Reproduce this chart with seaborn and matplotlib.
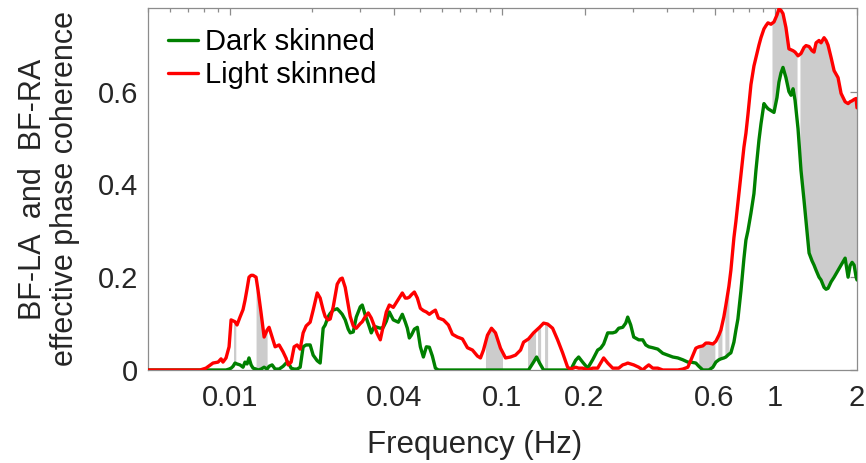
import numpy as np
import pandas as pd
import matplotlib
matplotlib.use("Agg")
import matplotlib.pyplot as plt
import matplotlib.ticker as mticker
import seaborn as sns

# Frequency grid (Hz) shared by both groups
freq = [
    0.005, 0.00628, 0.00776, 0.00816, 0.00866, 0.00904, 0.00927, 0.00942, 0.00967, 0.00992,
    0.01009, 0.01026, 0.01043, 0.01061, 0.01088, 0.01116, 0.01135, 0.01155, 0.01174, 0.01195,
    0.01215, 0.01246, 0.01267, 0.01300, 0.01334, 0.01368, 0.01391, 0.01427, 0.01464, 0.01514,
    0.01566, 0.01607, 0.01634, 0.01676, 0.01719, 0.01763, 0.01809, 0.01855, 0.01903, 0.01968,
    0.02019, 0.02089, 0.02142, 0.02197, 0.02235, 0.02292, 0.02332, 0.02392, 0.02474, 0.02538,
    0.02581, 0.02647, 0.02715, 0.02762, 0.02833, 0.02906, 0.03006, 0.03057, 0.03136, 0.03216,
    0.03299, 0.03384, 0.03471, 0.03560, 0.03652, 0.03746, 0.03842, 0.03974, 0.04146, 0.04289,
    0.04399, 0.04475, 0.04551, 0.04629, 0.04748, 0.04870, 0.04995, 0.05124, 0.05255, 0.05390,
    0.05529, 0.05672, 0.05817, 0.06069, 0.06331, 0.06549, 0.06832, 0.07128, 0.07436, 0.07757,
    0.08093, 0.08301, 0.08514, 0.08807, 0.09111, 0.09425, 0.09832, 0.1026, 0.1070, 0.1116,
    0.1165, 0.1195, 0.1246, 0.1300, 0.1334, 0.1368, 0.1415, 0.1464, 0.1527, 0.1593,
    0.1662, 0.1734, 0.1778, 0.1855, 0.1903, 0.1968, 0.2054, 0.2142, 0.2235, 0.2292,
    0.2351, 0.2433, 0.2538, 0.2603, 0.2670, 0.2762, 0.2833, 0.2881, 0.2955, 0.3031,
    0.3162, 0.3271, 0.3355, 0.3442, 0.3560, 0.3714, 0.3875, 0.4042, 0.4217, 0.4399,
    0.4590, 0.4788, 0.4911, 0.5124, 0.5255, 0.5436, 0.5576, 0.5720, 0.5917, 0.6069,
    0.6225, 0.6331, 0.6494, 0.6605, 0.6774, 0.6890, 0.7068, 0.7188, 0.7311, 0.7499,
    0.7692, 0.7823, 0.7957, 0.8162, 0.8371, 0.8514, 0.8733, 0.8883, 0.9111, 0.9266,
    0.9425, 0.9667, 0.9916, 1.017, 1.034, 1.052, 1.070, 1.097, 1.125, 1.145,
    1.165, 1.185, 1.215, 1.246, 1.278, 1.300, 1.334, 1.368, 1.391, 1.415,
    1.451, 1.476, 1.514, 1.540, 1.566, 1.607, 1.648, 1.704, 1.748, 1.809,
    1.855, 1.887, 1.919, 1.952, 1.985, 2.0,
]

# Effective phase coherence, dark-skinned group
dark = [
    0, 0, 0, 0, 0, 0, 0, 0, 0, 0.002,
    0.004, 0.008, 0.015, 0.013, 0.011, 0.006, 0.017, 0.013, 0.026, 0.011,
    0.004, 0.002, 0, 0.002, 0.006, 0.002, 0.008, 0.011, 0.002, 0.002,
    0.008, 0.015, 0.017, 0.004, 0.002, 0.002, 0.006, 0.050, 0.054, 0.054,
    0.032, 0.020, 0.015, 0.090, 0.097, 0.115, 0.122, 0.129, 0.132, 0.125,
    0.120, 0.108, 0.088, 0.080, 0.082, 0.114, 0.136, 0.140, 0.118, 0.100,
    0.080, 0.094, 0.092, 0.090, 0.092, 0.105, 0.125, 0.108, 0.103, 0.120,
    0.103, 0.090, 0.069, 0.075, 0.088, 0.092, 0.050, 0.028, 0.050, 0.049,
    0.030, 0.004, 0, 0, 0, 0, 0, 0, 0, 0,
    0, 0, 0, 0, 0, 0, 0, 0, 0, 0,
    0, 0, 0, 0.017, 0.028, 0.015, 0, 0, 0, 0,
    0, 0, 0, 0.021, 0.028, 0.017, 0.004, 0.022, 0.043, 0.047,
    0.056, 0.080, 0.080, 0.082, 0.090, 0.092, 0.101, 0.114, 0.097, 0.071,
    0.065, 0.065, 0.054, 0.050, 0.048, 0.045, 0.036, 0.032, 0.028, 0.026,
    0.022, 0.017, 0.017, 0.015, 0.008, 0, 0, 0, 0.006, 0.017,
    0.022, 0.024, 0.026, 0.028, 0.034, 0.037, 0.060, 0.086, 0.110, 0.170,
    0.240, 0.280, 0.300, 0.338, 0.380, 0.430, 0.495, 0.530, 0.574, 0.568,
    0.563, 0.559, 0.555, 0.587, 0.620, 0.640, 0.652, 0.630, 0.600, 0.592,
    0.606, 0.581, 0.520, 0.430, 0.366, 0.320, 0.252, 0.235, 0.226, 0.215,
    0.200, 0.194, 0.178, 0.174, 0.176, 0.190, 0.200, 0.215, 0.226, 0.241,
    0.200, 0.225, 0.232, 0.226, 0.200, 0.194,
]

# Effective phase coherence, light-skinned group
light = [
    0, 0, 0, 0.004, 0.015, 0.017, 0.024, 0.017, 0.026, 0.050,
    0.108, 0.106, 0.104, 0.097, 0.114, 0.130, 0.150, 0.175, 0.200, 0.204,
    0.204, 0.200, 0.172, 0.123, 0.071, 0.086, 0.092, 0.071, 0.050, 0.054,
    0.039, 0.025, 0.011, 0.017, 0.050, 0.054, 0.045, 0.080, 0.095, 0.103,
    0.129, 0.166, 0.155, 0.129, 0.115, 0.108, 0.110, 0.136, 0.185, 0.196,
    0.198, 0.178, 0.140, 0.115, 0.095, 0.090, 0.100, 0.104, 0.115, 0.123,
    0.112, 0.095, 0.078, 0.065, 0.095, 0.125, 0.140, 0.135, 0.152, 0.166,
    0.155, 0.155, 0.157, 0.162, 0.168, 0.155, 0.133, 0.128, 0.125, 0.120,
    0.125, 0.129, 0.112, 0.108, 0.097, 0.077, 0.071, 0.067, 0.048, 0.043,
    0.030, 0.026, 0.043, 0.075, 0.090, 0.080, 0.047, 0.026, 0.028, 0.032,
    0.043, 0.060, 0.067, 0.080, 0.086, 0.092, 0.101, 0.099, 0.090, 0.065,
    0.037, 0.006, 0.002, 0.006, 0.004, 0.004, 0, 0.004, 0.004, 0.015,
    0.026, 0.015, 0.004, 0.004, 0.004, 0.011, 0.013, 0.015, 0.013, 0.011,
    0.006, 0, 0.006, 0.011, 0.004, 0.004, 0, 0, 0, 0,
    0.002, 0.006, 0.021, 0.047, 0.050, 0.052, 0.058, 0.058, 0.056, 0.062,
    0.075, 0.086, 0.115, 0.140, 0.180, 0.215, 0.285, 0.320, 0.360, 0.420,
    0.480, 0.510, 0.550, 0.615, 0.655, 0.673, 0.700, 0.716, 0.735, 0.742,
    0.748, 0.745, 0.750, 0.765, 0.778, 0.775, 0.768, 0.738, 0.692, 0.690,
    0.688, 0.685, 0.677, 0.682, 0.695, 0.699, 0.697, 0.688, 0.685, 0.705,
    0.710, 0.705, 0.716, 0.710, 0.700, 0.673, 0.645, 0.630, 0.596, 0.578,
    0.574, 0.578, 0.580, 0.583, 0.585, 0.565,
]

# Frequency bands (Hz) where the two groups differ significantly
sig_lo = [0.0103, 0.01246, 0.0866, 0.1236, 0.1345, 0.1427, 0.5255, 0.617, 0.655, 0.975, 1.235]
sig_hi = [0.0105, 0.01368, 0.100, 0.1322, 0.1380, 0.1464, 0.6018, 0.6387, 0.6774, 1.205, 2.0]

xticks = [0.01, 0.04, 0.1, 0.2, 0.6, 1, 2]
xticklabels = ["0.01", "0.04", "0.1", "0.2", "0.6", "1", "2"]
yticks = [0, 0.2, 0.4, 0.6]
yticklabels = ["0", "0.2", "0.4", "0.6"]

sns.set_style("white")
plt.rcParams["font.family"] = ["Liberation Sans", "DejaVu Sans"]

axis_grey = "#8c8c8c"
text_dark = "#262626"

fig = plt.figure(figsize=(8.66, 4.63), dpi=100)
ax = fig.add_axes([148 / 866, 93 / 463, 709 / 866, 362 / 463])

df = pd.DataFrame({"freq": freq, "Dark skinned": dark, "Light skinned": light})

# Grey bands between the two curves
logf = np.log10(df["freq"].to_numpy())
for lo, hi in zip(sig_lo, sig_hi):
    band = np.geomspace(lo, hi, 80)
    d_band = np.interp(np.log10(band), logf, df["Dark skinned"].to_numpy())
    l_band = np.interp(np.log10(band), logf, df["Light skinned"].to_numpy())
    ax.fill_between(band, d_band, l_band, color="#cccccc", linewidth=0, zorder=1)

sns.lineplot(data=df, x="freq", y="Dark skinned", color="#008000", linewidth=2.4,
             label="Dark skinned", ax=ax, zorder=3)
sns.lineplot(data=df, x="freq", y="Light skinned", color="#ff0000", linewidth=2.4,
             label="Light skinned", ax=ax, zorder=4)

ax.set_xscale("log")
ax.set_xlim(0.005, 2)
ax.set_ylim(0, 0.78)

ax.xaxis.set_major_locator(mticker.FixedLocator(xticks))
ax.xaxis.set_major_formatter(mticker.FixedFormatter(xticklabels))
ax.xaxis.set_minor_locator(mticker.LogLocator(base=10, subs=np.arange(2, 10)))
ax.xaxis.set_minor_formatter(mticker.NullFormatter())
ax.yaxis.set_major_locator(mticker.FixedLocator(yticks))
ax.yaxis.set_major_formatter(mticker.FixedFormatter(yticklabels))

ax.tick_params(axis="both", which="both", direction="in", top=True, right=True,
               color=axis_grey, width=0.9, labelcolor=text_dark, labelsize=21)
ax.tick_params(axis="both", which="major", length=5)
ax.tick_params(axis="both", which="minor", length=3)
ax.tick_params(axis="x", which="major", pad=10)
ax.tick_params(axis="y", which="major", pad=7)

for side in ["left", "right", "top", "bottom"]:
    ax.spines[side].set_visible(True)
    ax.spines[side].set_color(axis_grey)
    ax.spines[side].set_linewidth(0.9)

ax.set_xlabel("Frequency (Hz)", fontsize=22.5, color=text_dark)
ax.xaxis.set_label_coords(0.461, -0.165)
ax.set_ylabel("BF-LA  and  BF-RA\neffective phase coherence", fontsize=22,
              color=text_dark, linespacing=1.1)
ax.yaxis.set_label_coords(-0.096, 0.5)

leg = ax.legend(loc="upper left", frameon=False, fontsize=21, handlelength=1.0,
                handletextpad=0.25, labelspacing=0.15, borderaxespad=0.3,
                bbox_to_anchor=(0.0, 1.0))
for text in leg.get_texts():
    text.set_color("black")

fig.savefig("out.png", dpi=100)
